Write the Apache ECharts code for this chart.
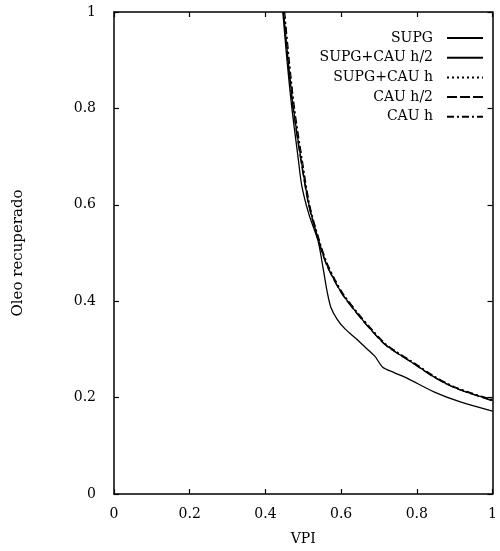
<!DOCTYPE html>
<html>
<head>
<meta charset="utf-8">
<script src="https://cdn.jsdelivr.net/npm/echarts@6/dist/echarts.min.js"></script>
<style>
    html, body { margin: 0; padding: 0; background: #fff; }
    #chart { width: 500px; height: 551px; }
</style>
</head>
<body>
<div id="chart"></div>
<script>
// 曲线数据 [VPI, Oleo recuperado]
var adSupg = [
    [0.446, 1.0], [0.457, 0.90], [0.470, 0.80], [0.486, 0.70], [0.496, 0.640],
    [0.515, 0.580], [0.539, 0.525], [0.552, 0.470], [0.563, 0.420], [0.573, 0.387],
    [0.590, 0.362], [0.611, 0.342], [0.640, 0.322], [0.663, 0.305], [0.689, 0.286],
    [0.710, 0.263], [0.740, 0.252], [0.775, 0.240], [0.845, 0.212], [0.915, 0.191],
    [1.0, 0.172]
];
var adSupgCauH2 = [
    [0.448, 1.0], [0.460, 0.90], [0.474, 0.80], [0.493, 0.70], [0.515, 0.60],
    [0.540, 0.528], [0.560, 0.480], [0.582, 0.444], [0.604, 0.414], [0.645, 0.372],
    [0.680, 0.340], [0.715, 0.311], [0.745, 0.294], [0.793, 0.270], [0.845, 0.243],
    [0.896, 0.222], [0.948, 0.207], [1.0, 0.194]
];
var adSupgCauH = [
    [0.450, 1.0], [0.462, 0.90], [0.476, 0.80], [0.495, 0.70], [0.516, 0.60],
    [0.541, 0.528], [0.561, 0.481], [0.583, 0.445], [0.605, 0.415], [0.646, 0.373],
    [0.681, 0.341], [0.716, 0.312], [0.746, 0.295], [0.794, 0.271], [0.846, 0.244],
    [0.897, 0.223], [0.949, 0.208], [1.0, 0.195]
];
var adCauH2 = [
    [0.447, 1.0], [0.459, 0.90], [0.473, 0.80], [0.492, 0.70], [0.514, 0.60],
    [0.539, 0.528], [0.559, 0.480], [0.581, 0.444], [0.603, 0.414], [0.644, 0.372],
    [0.679, 0.340], [0.714, 0.311], [0.744, 0.294], [0.792, 0.270], [0.844, 0.243],
    [0.895, 0.222], [0.947, 0.207], [1.0, 0.193]
];
var adCauH = [
    [0.451, 1.0], [0.463, 0.90], [0.477, 0.80], [0.496, 0.70], [0.517, 0.60],
    [0.542, 0.528], [0.562, 0.481], [0.584, 0.445], [0.606, 0.415], [0.647, 0.373],
    [0.682, 0.341], [0.717, 0.312], [0.747, 0.295], [0.795, 0.271], [0.847, 0.244],
    [0.898, 0.223], [0.950, 0.208], [1.0, 0.196]
];
var acLegend = ['SUPG', 'SUPG+CAU h/2', 'SUPG+CAU h', 'CAU h/2', 'CAU h'];

var cFont = 'DejaVu Serif';

// 四边框的坐标轴
function getAxis(bShowLabel, cPos, cName) {
    return {
        type: 'value',
        position: cPos,
        min: 0,
        max: 1,
        interval: 0.2,
        name: cName,
        nameLocation: 'middle',
        nameTextStyle: { fontFamily: cFont, fontSize: 14, color: '#000' },
        axisLine: { show: true, onZero: false, lineStyle: { color: '#000', width: 1.5 } },
        axisTick: { show: true, inside: true, length: 5, lineStyle: { color: '#000', width: 1.2 } },
        splitLine: { show: false },
        axisLabel: {
            show: bShowLabel,
            fontFamily: cFont,
            fontSize: 14,
            color: '#000',
            formatter: function (v) {
                return String(Math.round(v * 10) / 10);
            }
        }
    };
}

function getSeries(cName, adData, oLineType, dWidth) {
    return {
        name: cName,
        type: 'line',
        xAxisIndex: 0,
        yAxisIndex: 0,
        data: adData,
        symbol: 'none',
        smooth: 0.3,
        clip: true,
        itemStyle: { color: '#000' },
        lineStyle: { color: '#000', width: dWidth, type: oLineType }
    };
}

var oX = getAxis(true, 'bottom', 'VPI');
oX.nameGap = 38;
oX.axisLabel.margin = 13;
var oXTop = getAxis(false, 'top', '');
var oY = getAxis(true, 'left', 'Oleo recuperado');
oY.nameGap = 88;
oY.nameTextStyle.fontSize = 15;
oY.axisLabel.margin = 18;
var oYRight = getAxis(false, 'right', '');

var oChart = echarts.init(document.getElementById('chart'));
oChart.setOption({
    backgroundColor: '#fff',
    animation: false,
    grid: { left: 114, right: 1, top: 12, bottom: 53 },
    legend: {
        orient: 'vertical',
        right: 11,
        top: 26,
        align: 'right',
        itemWidth: 36,
        itemHeight: 14,
        itemGap: 5.7,
        data: acLegend,
        itemStyle: { opacity: 0 },
        textStyle: { fontFamily: cFont, fontSize: 14, color: '#000', padding: [0, 9, 0, 0] }
    },
    xAxis: [oX, oXTop],
    yAxis: [oY, oYRight],
    series: [
        getSeries(acLegend[0], adSupg, 'solid', 1.3),
        getSeries(acLegend[1], adSupgCauH2, 'solid', 1.3),
        getSeries(acLegend[2], adSupgCauH, [2, 3], 1.2),
        getSeries(acLegend[3], adCauH2, [10, 3], 1.2),
        getSeries(acLegend[4], adCauH, [7, 3, 2, 3], 1.2)
    ]
});
</script>
</body>
</html>
